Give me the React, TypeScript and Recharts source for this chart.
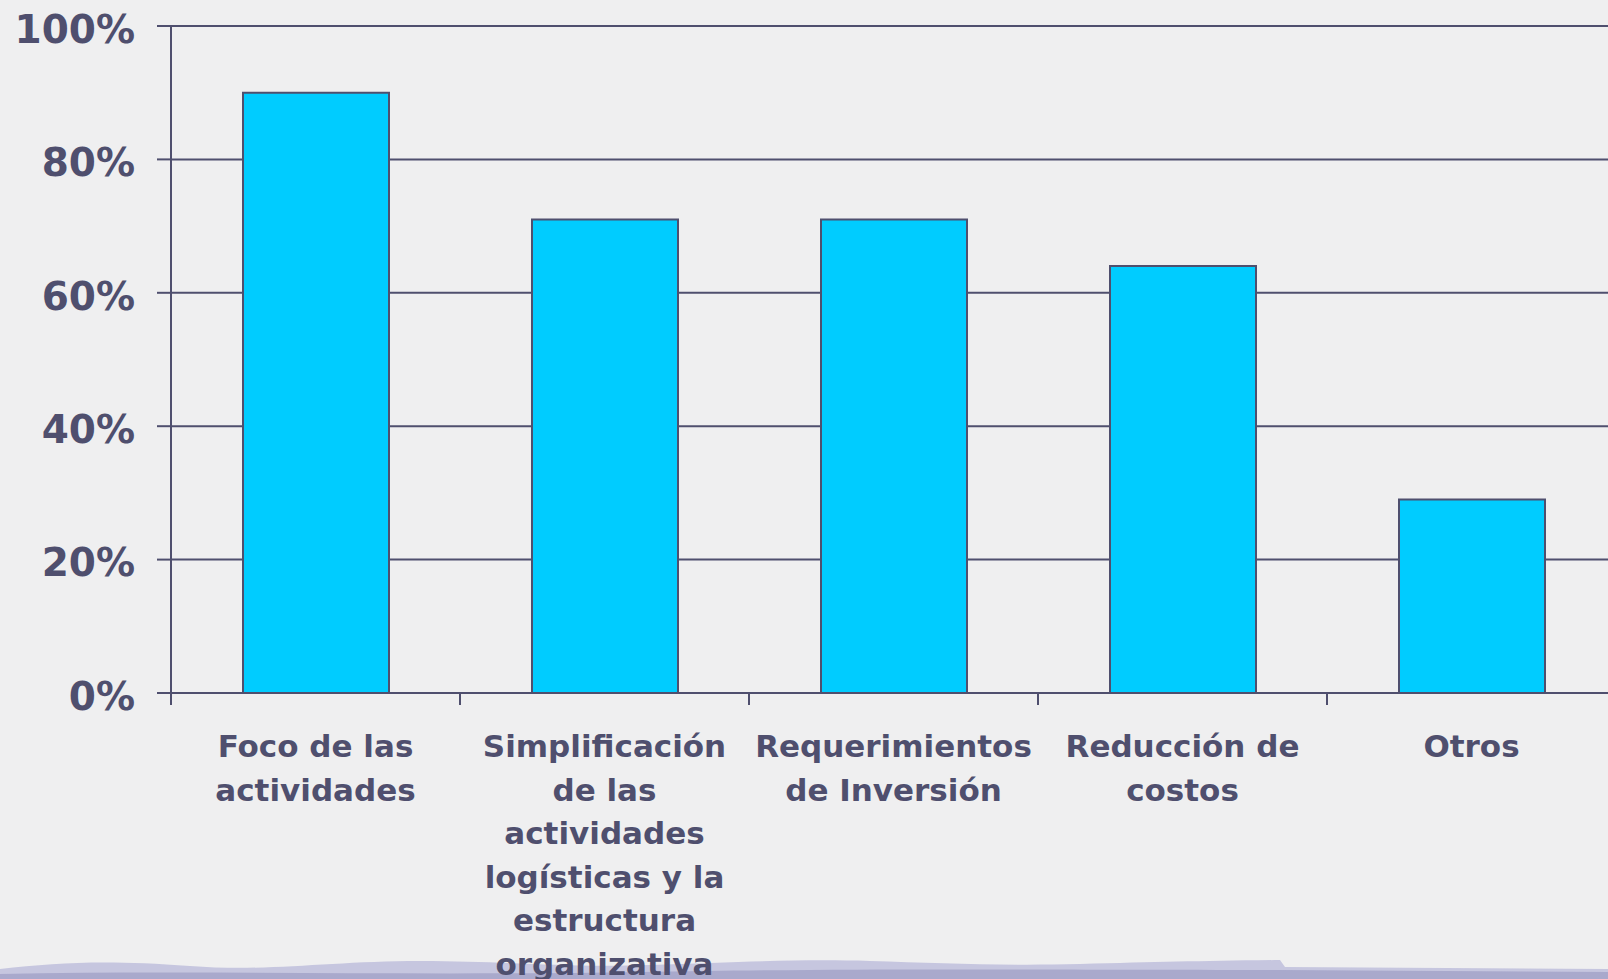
import { BarChart, Bar, XAxis, YAxis, CartesianGrid } from "recharts";

const categories = [
  "Foco de las actividades",
  "Simplificación de las actividades logísticas y la estructura organizativa",
  "Requerimientos de Inversión",
  "Reducción de costos",
  "Otros",
];
const shares = [0.9, 0.71, 0.71, 0.64, 0.29];
const categoryLines = [
  ["Foco de las", "actividades"],
  ["Simplificación", "de las", "actividades", "logísticas y la", "estructura", "organizativa"],
  ["Requerimientos", "de Inversión"],
  ["Reducción de", "costos"],
  ["Otros"],
];
const yTicks = [0, 0.2, 0.4, 0.6, 0.8, 1];

const data = categories.map((name, i) => ({ name, value: shares[i] }));

const INK = "#4f4f6e";
const FONT = "Tahoma, Verdana, 'DejaVu Sans', sans-serif";
const CHART_W = 1616;
const AXIS_W = 171;
const BAND = (CHART_W - AXIS_W) / categories.length;

function CategoryTick({ x, y, index }: any) {
  const lines = categoryLines[index] || [];
  const edge = x - BAND / 2;
  return (
    <g>
      <line x1={edge} x2={edge} y1={y} y2={y + 12} stroke={INK} strokeWidth={2} />
      <text x={x} y={y} textAnchor="middle" fill={INK} fontSize={31} fontWeight="bold" fontFamily={FONT}>
        {lines.map((l, i) => (
          <tspan key={i} x={x} dy={i === 0 ? 64 : 43.5}>
            {l}
          </tspan>
        ))}
      </text>
    </g>
  );
}

export default function App() {
  return (
    <div
      style={{
        position: "fixed",
        left: 0,
        top: 0,
        width: 1608,
        height: 979,
        overflow: "hidden",
        background: "#efeff0",
      }}
    >
      {/* slide decoration, sits behind the chart */}
      <svg width={1608} height={22} style={{ position: "absolute", left: 0, bottom: 0 }}>
        <path
          d="M0 12 C 60 5, 110 3, 190 9 S 330 4, 420 4 S 560 11, 650 8 S 800 2, 870 4 S 1000 9, 1080 7 S 1200 4, 1280 3 L 1285 10 L 1608 12 L 1608 22 L 0 22 Z"
          fill="#c6c6df"
        />
        <path d="M0 17 C 200 13, 400 19, 640 15 S 1000 13, 1280 13 L 1608 15 L 1608 22 L 0 22 Z" fill="#a9a9cc" />
      </svg>
      <div style={{ position: "absolute", left: 0, top: 0 }}>
        <BarChart width={CHART_W} height={979} data={data} margin={{ top: 26, right: 0, left: 0, bottom: 0 }}>
          <CartesianGrid vertical={false} stroke={INK} strokeWidth={2} />
          <XAxis
            dataKey="name"
            height={286}
            interval={0}
            tickSize={0}
            tickMargin={0}
            tickLine={false}
            axisLine={{ stroke: INK, strokeWidth: 2 }}
            tick={<CategoryTick />}
          />
          <YAxis
            width={AXIS_W}
            domain={[0, 1]}
            ticks={yTicks}
            interval={0}
            tickSize={14}
            tickMargin={22}
            tickFormatter={(v: number) => `${Math.round(v * 100)}%`}
            tickLine={{ stroke: INK, strokeWidth: 2 }}
            axisLine={{ stroke: INK, strokeWidth: 2 }}
            tick={{ fill: INK, fontSize: 39, fontWeight: "bold", fontFamily: FONT, dy: 3 }}
          />
          <Bar dataKey="value" fill="#00ccff" stroke={INK} strokeWidth={2} barSize={146} isAnimationActive={false} />
        </BarChart>
      </div>
    </div>
  );
}
